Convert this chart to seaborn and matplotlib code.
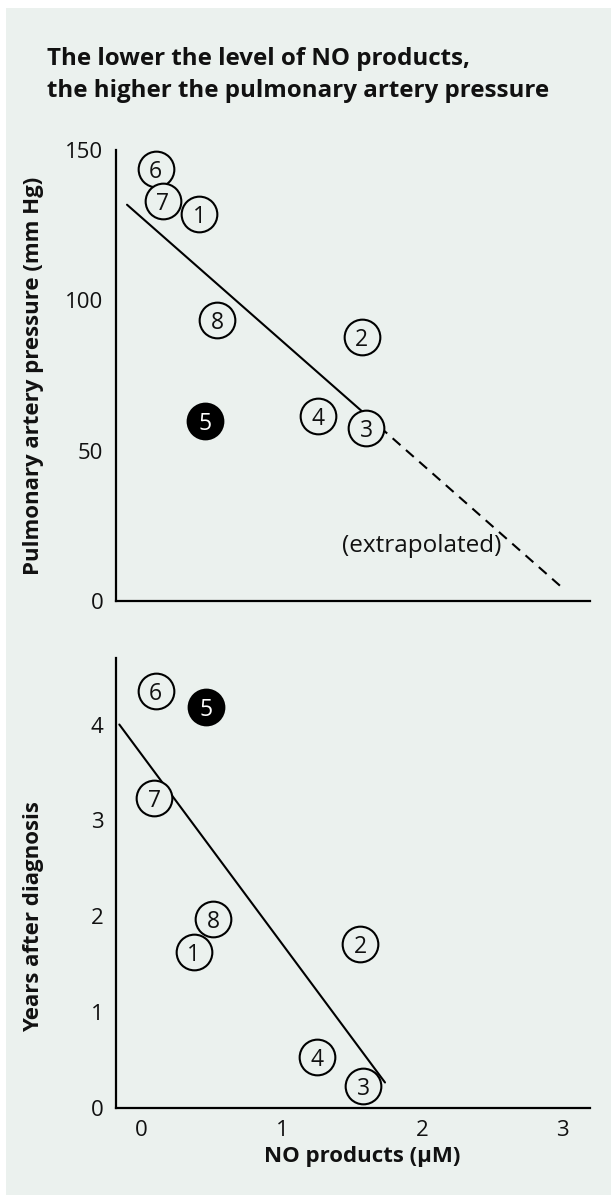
import matplotlib
matplotlib.use("Agg")
import matplotlib.pyplot as plt
from matplotlib import font_manager
from matplotlib.patches import Rectangle
import seaborn as sns
import pandas as pd

# ---------------- data ----------------
patients = ["1", "2", "3", "4", "5", "6", "7", "8"]
filled = [False, False, False, False, True, False, False, False]

# top panel: NO products (uM) vs pulmonary artery pressure (mm Hg)
top_no = [0.41, 1.57, 1.60, 1.26, 0.45, 0.10, 0.15, 0.54]
top_pap = [128.7, 87.8, 57.6, 61.4, 59.8, 143.7, 133.1, 93.3]
top_fit_x = [-0.105, 1.60]
top_fit_y = [131.8, 61.9]
top_extrap_x = [1.60, 2.99]
top_extrap_y = [61.9, 4.8]

# bottom panel: NO products (uM) vs years after diagnosis
bot_no = [0.37, 1.56, 1.58, 1.25, 0.46, 0.10, 0.09, 0.51]
bot_years = [1.63, 1.71, 0.23, 0.54, 4.18, 4.35, 3.23, 1.97]
bot_fit_x = [-0.16, 1.735]
bot_fit_y = [4.0, 0.27]

x_ticks = [0, 1, 2, 3]
top_y_ticks = [0, 50, 100, 150]
bot_y_ticks = [0, 1, 2, 3, 4]

title_lines = ["The lower the level of NO products,",
               "the higher the pulmonary artery pressure"]

# ---------------- style ----------------
BG = "#EBF1EE"
names = {f.name for f in font_manager.fontManager.ttflist}
BODY = "Open Sans" if "Open Sans" in names else "DejaVu Sans"
TITLE_FONT = "Liberation Sans Narrow" if "Liberation Sans Narrow" in names else BODY
TITLE_SIZE = 19 if TITLE_FONT == "Liberation Sans Narrow" else 17.4
sns.set_style("white")
plt.rcParams["font.family"] = [BODY, "DejaVu Sans"]

W, H = 611, 1195
fig = plt.figure(figsize=(W / 100, H / 100), dpi=100)
fig.patch.set_facecolor("white")
fig.patches.append(Rectangle((6 / W, 0), 1, 1 - 8 / H, transform=fig.transFigure,
                             facecolor=BG, edgecolor="none", zorder=-10))

for i, line in enumerate(title_lines):
    fig.text(46.5 / W, 1 - (65 + 31.7 * i) / H, line, ha="left", va="baseline",
             fontsize=TITLE_SIZE, fontweight="bold", family=[TITLE_FONT, "DejaVu Sans"],
             color="#111111")

left = 116.5 / W
width = (590.4 - 116.5) / W
ax1 = fig.add_axes([left, 1 - 601 / H, width, 451 / H])
ax2 = fig.add_axes([left, 1 - 1108.4 / H, width, 450.6 / H])


def style_axes(ax):
    ax.set_facecolor("none")
    for s in ["top", "right"]:
        ax.spines[s].set_visible(False)
    for s in ["left", "bottom"]:
        ax.spines[s].set_linewidth(1.6)
        ax.spines[s].set_color("black")
    ax.tick_params(direction="in", length=11, width=1.5, color="black",
                   labelsize=16, labelcolor="#111111")
    ax.tick_params(axis="y", pad=9.5)
    ax.tick_params(axis="x", pad=8)
    ax.set_xlim(-0.18, 3.2)
    ax.set_xticks(x_ticks)


def draw_points(ax, xs, ys):
    df = pd.DataFrame({"x": xs, "y": ys, "lab": patients, "filled": filled})
    op = df[~df["filled"]]
    fl = df[df["filled"]]
    sns.scatterplot(data=op, x="x", y="y", s=660, color=BG, edgecolor="black",
                    linewidth=1.5, clip_on=False, zorder=3, ax=ax, legend=False)
    sns.scatterplot(data=fl, x="x", y="y", s=660, color="black", edgecolor="black",
                    linewidth=1.5, clip_on=False, zorder=3, ax=ax, legend=False)
    for _, r in df.iterrows():
        ax.text(r["x"], r["y"], r["lab"], ha="center", va="center_baseline",
                fontsize=16.5, color="white" if r["filled"] else "#111111",
                zorder=4, clip_on=False)


# top panel
style_axes(ax1)
sns.lineplot(x=top_fit_x, y=top_fit_y, color="black", linewidth=1.5, ax=ax1, zorder=2)
sns.lineplot(x=top_extrap_x, y=top_extrap_y, color="black", linewidth=1.5,
             linestyle=(0, (5, 3.5)), ax=ax1, zorder=2)
draw_points(ax1, top_no, top_pap)
ax1.set_ylim(0, 150)
ax1.set_yticks(top_y_ticks)
ax1.set_xticklabels([])
ax1.text(2.0, 18.3, "(extrapolated)", ha="center", va="center", fontsize=17.5,
         color="#111111")
ax1.set_xlabel("")
ax1.set_ylabel("Pulmonary artery pressure (mm Hg)", fontsize=16,
               fontweight="bold", color="#111111")
ax1.yaxis.set_label_coords(-0.152, 0.5)

# bottom panel
style_axes(ax2)
sns.lineplot(x=bot_fit_x, y=bot_fit_y, color="black", linewidth=1.5, ax=ax2, zorder=2)
draw_points(ax2, bot_no, bot_years)
ax2.set_ylim(0, 4.695)
ax2.set_yticks(bot_y_ticks)
ax2.set_xlabel("NO products (\u03bcM)", fontsize=16, fontweight="bold",
               color="#111111")
ax2.xaxis.set_label_coords(0.519, -0.083)
ax2.set_ylabel("Years after diagnosis", fontsize=16, fontweight="bold",
               color="#111111")
ax2.yaxis.set_label_coords(-0.152, 0.426)

fig.savefig("out.png", dpi=100, facecolor="white")
